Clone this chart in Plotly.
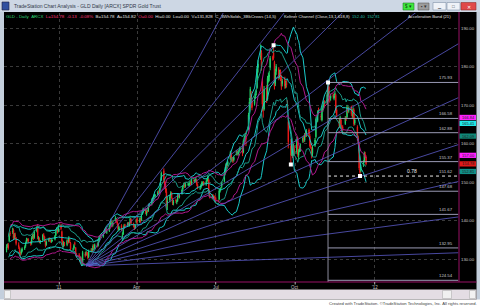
import numpy as np
import pandas as pd
import plotly.graph_objects as go

W, H = 480, 307
def fx(p): return p / W
def fy(p): return 1 - p / H

# ---------------- data (GLD daily, Nov 2010 - Dec 2011) ----------------
opens = [
 132.4,133.5,133.8,134.8,136.8,137.0,137.6,135.8,136.4,135.5,133.8,133.0,131.6,131.6,132.2,132.8,133.4,134.6,135.0,135.2,134.4,134.2,
 135.8,136.2,135.6,137.4,138.6,135.2,135.4,134.4,135.0,136.4,135.8,134.6,133.8,134.8,135.4,134.8,134.6,134.9,135.2,136.2,137.6,137.6,137.3,
 138.9,137.2,134.6,133.6,134.0,133.8,134.8,134.6,135.3,134.2,132.6,132.9,134.2,133.0,131.0,131.2,130.6,129.8,130.1,128.9,131.4,
 131.2,131.6,131.6,130.6,132.2,132.6,132.4,133.6,132.8,133.9,133.6,134.7,135.5,136.2,136.0,137.2,137.2,138.0,137.0,137.4,
 138.8,139.8,139.6,138.9,140.2,140.4,139.8,139.2,137.7,138.8,135.8,136.6,138.2,138.9,139.0,139.4,138.8,139.6,140.4,139.2,138.8,138.2,139.6,
 140.5,139.8,140.4,140.2,141.8,142.2,142.8,141.6,142.6,142.6,143.8,144.5,145.0,146.0,146.4,146.6,146.9,147.6,147.5,148.6,150.6,
 153.0,150.4,149.6,147.6,144.2,145.4,146.5,147.2,145.8,144.5,145.4,144.8,145.2,146.8,146.2,147.2,148.2,149.2,149.6,149.0,149.5,149.2,
 149.4,150.0,149.7,150.6,150.2,150.6,150.6,149.4,148.4,148.7,149.4,149.6,150.0,149.5,150.3,150.7,150.6,147.4,146.0,146.6,146.0,146.3,
 146.0,145.2,145.6,147.6,148.3,148.9,150.2,152.4,153.6,154.8,154.6,156.0,157.4,155.6,156.3,155.8,157.4,158.0,157.3,158.0,158.4,
 159.4,157.8,160.6,161.2,161.8,163.8,168.2,171.8,172.6,171.0,170.4,172.2,173.4,174.6,179.8,182.4,183.6,176.2,170.4,169.0,174.4,171.6,176.6,
 177.4,179.8,182.4,183.6,181.2,175.6,178.8,179.4,177.6,178.8,177.4,175.6,177.0,175.2,176.0,170.4,165.8,159.4,157.2,159.6,157.6,158.8,
 157.8,161.4,157.0,158.6,158.4,160.6,161.6,161.0,162.8,162.4,163.6,162.0,160.0,158.8,157.4,159.6,161.8,166.8,166.0,168.8,167.2,
 166.2,168.8,169.6,170.8,170.6,173.2,174.8,171.8,171.8,172.8,171.8,172.6,172.6,168.8,166.0,164.6,166.2,164.5,164.4,165.2,166.8,167.0,
 169.2,168.6,169.6,167.6,167.0,168.8,165.4,164.4,161.6,159.8,153.4,153.0,154.4,155.4,157.2,156.6]
highs = [
 133.9,134.1,134.2,136.9,137.3,138.2,138.0,136.8,136.9,135.8,134.4,133.3,132.0,132.8,133.1,133.6,134.6,135.6,135.4,135.5,134.8,136.0,
 136.5,136.6,137.6,138.7,139.0,136.0,135.7,135.0,136.6,136.8,136.1,134.9,134.9,135.6,135.7,135.1,135.2,135.1,136.3,137.8,138.3,137.9,139.0,
 139.3,137.5,135.0,134.7,134.5,135.2,135.1,136.0,135.6,134.5,133.0,134.0,134.6,133.2,131.6,131.6,130.9,130.7,130.4,132.2,131.9,
 132.3,132.0,131.9,132.5,132.9,132.9,133.9,133.9,134.1,134.2,134.8,136.0,136.3,136.5,136.9,137.6,138.0,138.4,137.5,139.0,
 139.9,140.3,139.9,139.8,141.2,140.7,140.1,139.4,138.7,139.1,137.0,138.1,139.2,139.2,139.6,139.7,139.6,140.9,140.6,139.5,139.0,139.0,140.5,
 141.0,140.7,140.8,141.6,142.5,143.4,143.1,142.7,142.9,143.8,144.6,145.8,146.0,146.5,147.0,146.9,147.8,147.9,148.6,150.1,152.8,
 153.6,151.2,150.0,148.4,146.2,146.8,147.7,147.5,146.0,145.4,145.8,145.5,147.1,147.0,147.0,148.4,149.3,149.9,149.9,149.8,149.8,150.0,
 150.3,150.4,151.0,150.9,150.8,151.2,150.9,149.7,148.9,149.6,150.3,150.2,150.3,150.5,151.1,151.9,150.9,147.7,146.9,146.9,146.4,146.6,
 146.3,145.5,148.2,148.5,148.8,150.2,152.6,154.0,155.0,155.2,155.6,158.2,157.7,156.4,156.6,156.9,158.3,158.3,158.2,158.7,159.3,
 160.0,161.1,162.2,162.6,163.2,168.1,171.9,174.8,173.7,171.5,172.3,173.8,174.2,180.2,181.8,185.8,184.3,177.0,172.6,175.0,175.2,177.6,178.5,
 179.0,182.8,182.9,185.6,181.6,179.5,180.7,179.9,179.2,179.3,177.9,176.9,177.4,176.4,176.5,171.3,166.6,161.2,161.4,160.5,160.0,159.6,
 161.9,161.8,158.6,159.4,160.0,161.9,162.2,162.8,163.2,163.8,164.0,162.5,160.6,159.2,159.4,161.5,166.9,167.4,168.7,169.4,167.8,
 169.6,169.8,171.2,171.3,173.2,175.9,175.2,172.5,173.0,173.1,172.9,173.7,173.0,169.2,166.6,167.3,166.6,164.9,164.8,167.2,167.2,170.1,
 169.6,169.7,169.9,168.0,169.5,169.2,166.6,164.8,162.1,160.2,154.3,154.6,155.7,158.0,157.9,157.0]
lows = [
 131.8,133.0,132.5,134.4,136.0,136.6,135.0,135.3,135.3,133.6,132.7,130.9,130.4,131.2,131.8,132.4,133.0,134.2,134.6,134.2,133.5,133.8,
 135.3,135.0,135.3,137.0,135.2,134.8,134.2,134.0,134.7,135.7,134.5,133.1,133.5,134.5,134.6,134.3,134.3,134.6,134.9,136.0,137.3,136.7,137.0,
 137.6,134.4,133.0,133.2,133.4,133.4,133.9,134.3,134.2,132.3,132.2,132.5,133.6,130.9,130.5,130.3,129.2,129.4,128.3,128.4,130.5,
 130.9,131.0,130.0,130.3,131.8,131.8,132.0,132.7,132.5,133.1,133.3,134.4,135.1,135.5,135.6,136.6,136.8,136.9,136.6,137.1,
 138.5,139.3,138.3,138.5,139.8,139.5,138.9,137.5,137.2,137.4,134.8,136.3,137.9,138.4,138.7,138.7,138.5,139.2,139.0,138.3,137.6,137.9,139.3,
 139.1,139.5,139.5,139.9,141.5,141.9,141.7,141.3,142.1,142.3,143.5,144.0,144.7,145.6,146.0,146.2,146.6,146.7,147.1,148.3,150.3,
 149.8,148.4,147.3,142.9,142.8,144.8,146.0,145.7,144.1,144.0,144.6,144.3,144.9,146.0,145.8,146.8,147.8,148.8,148.5,148.6,149.1,148.9,
 149.0,149.2,149.3,149.9,149.8,150.2,149.1,148.2,148.0,148.4,149.0,149.2,149.1,149.1,149.9,150.3,147.0,145.8,145.6,145.8,145.6,145.5,
 144.6,144.8,145.3,147.3,147.9,148.5,149.9,152.0,153.2,153.8,154.2,155.7,155.4,155.2,155.0,155.4,157.0,157.0,156.9,157.6,158.0,
 156.8,157.5,160.1,160.6,159.4,163.5,166.4,171.3,169.3,168.7,169.9,171.6,172.6,174.3,178.5,181.8,179.0,168.4,166.8,168.6,170.6,171.2,175.9,
 176.2,179.1,181.6,181.8,174.1,175.0,177.9,176.5,176.9,176.3,174.0,174.9,174.3,174.4,174.6,168.6,158.8,154.6,156.8,156.3,156.9,157.2,
 157.3,156.6,155.9,157.8,157.9,160.2,160.4,160.5,161.7,161.8,161.8,159.0,158.7,156.2,156.7,159.2,161.4,165.5,165.6,167.8,166.1,
 165.8,168.3,169.2,169.7,170.2,172.8,172.0,170.7,171.2,171.7,171.3,172.2,168.0,166.9,164.1,164.2,163.8,163.9,163.2,164.9,165.9,166.6,
 167.9,168.1,167.3,166.6,166.4,164.6,164.9,160.9,159.7,153.2,151.62,152.6,154.0,155.1,156.3,154.4]
closes = [
 133.3,133.6,132.9,136.6,136.6,137.4,135.5,136.2,135.9,134.1,133.2,131.5,131.0,132.4,132.6,133.1,134.3,135.1,135.1,134.6,133.9,135.6,
 136.0,135.4,137.2,138.2,135.6,135.5,134.6,134.6,136.3,136.1,134.9,133.5,134.5,135.2,135.0,134.7,134.9,134.9,136.0,137.5,137.8,137.1,138.7,
 138.0,134.8,133.5,134.3,133.9,134.9,134.3,135.6,134.6,132.7,132.7,133.6,134.1,131.3,131.0,130.8,129.5,130.2,129.0,131.8,130.9,
 131.8,131.4,130.4,132.1,132.5,132.2,133.5,133.1,133.8,133.5,134.5,135.7,135.9,135.9,136.4,137.0,137.5,137.3,137.2,138.7,
 139.5,139.8,138.7,139.4,140.8,139.9,139.3,137.9,138.3,138.0,136.2,137.8,138.8,138.8,139.3,139.1,139.3,140.6,139.4,138.7,138.0,138.7,140.2,
 139.6,140.3,139.9,141.3,142.0,143.0,142.2,142.3,142.5,143.5,144.3,145.3,145.6,146.1,146.6,146.6,147.4,147.1,148.3,149.8,152.4,
 150.6,149.3,148.0,143.7,145.2,146.3,147.3,146.2,144.7,145.0,145.2,145.0,146.8,146.5,146.6,148.0,149.0,149.4,148.9,149.5,149.5,149.6,
 149.8,149.6,150.5,150.3,150.5,150.8,149.5,148.6,148.5,149.3,149.9,149.9,149.5,150.2,150.8,151.5,147.6,146.3,146.4,146.2,146.1,145.9,
 145.1,145.1,147.8,148.1,148.4,149.8,152.2,153.6,154.7,154.3,155.3,157.8,155.9,156.0,155.5,156.5,157.9,157.5,157.8,158.3,158.9,
 157.6,160.7,161.5,162.0,161.1,167.5,170.9,174.2,170.8,169.4,171.6,173.0,173.6,179.5,180.7,182.9,180.0,170.3,170.1,174.2,171.2,177.0,177.8,
 177.9,182.2,182.2,182.3,174.8,178.6,180.0,177.4,178.4,177.1,174.9,176.3,175.0,175.6,175.2,169.3,160.5,157.0,159.8,157.1,158.6,158.1,
 161.1,157.3,157.9,158.6,159.1,161.5,161.0,162.2,162.3,163.3,162.4,159.4,159.2,157.0,158.9,161.0,166.4,166.4,168.2,168.5,166.9,
 169.0,169.2,170.7,170.2,172.8,174.5,172.7,171.6,172.5,172.2,172.4,173.1,168.5,167.4,164.7,166.8,164.3,164.3,163.7,166.7,166.5,169.6,
 168.5,169.1,167.8,167.2,169.0,165.1,166.2,161.4,160.2,153.7,152.5,154.0,155.2,157.6,156.8,154.8]

fib_levels = [175.93, 166.58, 162.88, 155.37, 151.62, 147.68, 141.67, 132.95, 124.54]
fib_start = "2011-11-08"
fan_origin_date, fan_origin_price = "2011-02-01", 128.3
fan_end_date = "2012-04-07"
fan_end_prices = [306.7, 251.8, 223.8, 202.6, 186.0, 172.0, 159.8, 150.2, 141.0, 131.7]
pivot_dates = ["2011-09-06", "2011-11-08", "2011-09-26", "2011-12-15"]
pivot_prices = [185.6, 175.93, 154.6, 151.62]
axis_prices = [130, 140, 150, 160, 170, 180, 190]
date_ticks = ["2011-01-01", "2011-04-01", "2011-07-01", "2011-10-01", "2012-01-01"]
date_labels = ["'11", "Apr", "Jul", "Oct", "'12"]
price_boxes = [(166.84, "#ff20ff", "166.84"), (165.30, "#20e8e8", "165.41"), (162.0, "#108878", "162.09"),
               (157.0, "#ff20ff", "157.00"), (154.78, "#e01818", "154.78"), (152.81, "#109088", "152.81")]
status_parts = [("GLD - Daily", "#30d878"), ("ARCX", "#30d878"), ("L=154.78", "#ff3a7a"), ("-0.13", "#ff3a7a"),
                ("-0.08%", "#ff3a7a"), ("B=154.78", "#e0e0e0"), ("A=154.82", "#e0e0e0"), ("O=0.00", "#ff3a7a"),
                ("Hi=0.00", "#e0e0e0"), ("Lo=0.00", "#e0e0e0"), ("V=131,828", "#e0e0e0"),
                ("C_3WhSolds_3BkCrows (14,5)", "#e0e0e0")]
status_parts2 = [("Keltner Channel (Close,13,1.618,8)", "#e0e0e0"), ("152.40", "#20b8a0"), ("152.81", "#20b8a0")]

n = min(len(opens), len(highs), len(lows), len(closes))
dates = pd.bdate_range("2010-11-01", periods=n)
df = pd.DataFrame({"o": opens[:n], "h": highs[:n], "l": lows[:n], "c": closes[:n]}, index=dates)

# indicators derived from the data
mid = df.c.rolling(20, min_periods=5).mean()
sd = df.c.rolling(20, min_periods=5).std()
bb_up, bb_lo = mid + 2 * sd, mid - 2 * sd
tr = pd.concat([df.h - df.l, (df.h - df.c.shift()).abs(), (df.l - df.c.shift()).abs()], axis=1).max(axis=1)
atr = tr.rolling(8, min_periods=3).mean()
kc_mid = df.c.ewm(span=13).mean()
kc_up, kc_lo = kc_mid + 1.618 * atr, kc_mid - 1.618 * atr
fac = 4 * (df.h - df.l) / (df.h + df.l)
ab_up = (df.h * (1 + fac)).rolling(21, min_periods=5).mean()
ab_lo = (df.l * (1 - fac)).rolling(21, min_periods=5).mean()

fig = go.Figure()
CY = "#19c8c8"
TE = "#1a9a88"
MG = "#b0188c"
for s, col in [(bb_up, CY), (bb_lo, CY), (mid, CY), (kc_up, TE), (kc_lo, TE), (ab_up, MG), (ab_lo, MG)]:
    fig.add_trace(go.Scatter(x=dates, y=s, mode="lines", line=dict(color=col, width=1), hoverinfo="skip"))

# fan lines
for p in fan_end_prices:
    fig.add_trace(go.Scatter(x=[fan_origin_date, fan_end_date], y=[fan_origin_price, p], mode="lines",
                             line=dict(color="#5a5ac8", width=0.8), hoverinfo="skip"))
# fib lines
for lv in fib_levels:
    dotted = abs(lv - 151.62) < 1e-6
    fig.add_trace(go.Scatter(x=[fib_start, fan_end_date], y=[lv, lv], mode="lines",
                             line=dict(color="#e8e8e8" if dotted else "#9a9ab4", width=1,
                                       dash="dot" if dotted else "solid"), hoverinfo="skip"))
fig.add_trace(go.Scatter(x=[fib_start, fib_start], y=[fib_levels[0], 124.0], mode="lines",
                         line=dict(color="#8c8c9c", width=1), hoverinfo="skip"))

fig.add_trace(go.Candlestick(x=dates, open=df.o, high=df.h, low=df.l, close=df.c,
                             increasing=dict(line=dict(color="#22d46a", width=1), fillcolor="#22d46a"),
                             decreasing=dict(line=dict(color="#e81a1a", width=1), fillcolor="#e81a1a"),
                             whiskerwidth=0, hoverinfo="skip"))
fig.add_trace(go.Scatter(x=pivot_dates, y=pivot_prices, mode="markers",
                         marker=dict(symbol="square", size=4, color="white"), hoverinfo="skip"))

shapes = []
ann = []
def rect(x0, y0, x1, y1, fill, line=None):
    shapes.append(dict(type="rect", xref="paper", yref="paper", x0=fx(x0), x1=fx(x1), y0=fy(y1), y1=fy(y0),
                       fillcolor=fill, line=dict(width=0.6 if line else 0, color=line or fill), layer="above"))
def text(x, y, s, size=4.5, color="#d0d0d0", anchor="left", xref="paper", yref="paper"):
    ann.append(dict(x=x, y=y, xref=xref, yref=yref, text=s, showarrow=False, xanchor=anchor, yanchor="middle",
                    font=dict(size=size, color=color, family="Arial"), borderpad=0))

# window chrome
rect(0, 0, 480, 12, "#cdd7e4")
rect(0, 12, 4, 300, "#c4cfdc")
rect(476.5, 12, 480, 300, "#c4cfdc")
rect(4, 289.5, 476.5, 299.5, "#e4dde4")
rect(0, 299.5, 480, 307, "#ffffff")
rect(4.5, 290.5, 10.5, 298.5, "#f2f2f2", "#b0b0b0")
rect(469.5, 290.5, 475.5, 298.5, "#f2f2f2", "#b0b0b0")
rect(442.5, 290.5, 451.5, 298.5, "#f0f0f0", "#b0b0b0")
rect(2, 2, 9, 10, "#3050a0", "#202040")
rect(403, 3, 414, 10, "#3ee83e", "#208020")
rect(418, 3, 429, 10, "#9c9c9c", "#606060")
rect(433, 2.5, 446, 10, "#eef2f8", "#8090a8")
rect(447, 2.5, 460, 10, "#eef2f8", "#8090a8")
rect(461, 2.5, 476, 10, "#e04848", "#903030")
text(fx(13), fy(6), "TradeStation Chart Analysis - GLD Daily [ARCX] SPDR Gold Trust", 5, "#303848")
text(fx(408.5), fy(6.5), "$ ▾", 4.5, "#104010", "center")
text(fx(423.5), fy(6.5), "▪ ▾", 4.5, "#303030", "center")
text(fx(439.5), fy(6.5), "▁", 4, "#404850", "center")
text(fx(453.5), fy(6.5), "□", 4.5, "#404850", "center")
text(fx(468.5), fy(6.5), "✕", 5, "#ffffff", "center")
text(fx(478), fy(303), "Created with TradeStation. ©TradeStation Technologies, Inc. All rights reserved.", 4.2, "#404040", "right")

# status line as coloured spans
def spans(parts):
    return "&nbsp;&nbsp;".join(f'<span style="color:{c}">{s}</span>' for s, c in parts)
text(fx(5), fy(16), spans(status_parts), 4.4, "#e0e0e0")
text(fx(283), fy(16), spans(status_parts2), 4.2, "#e0e0e0")
text(fx(407), fy(16), "Acceleration Band (21)", 4.2, "#e0e0e0")

# axes frame lines
shapes.append(dict(type="line", xref="paper", yref="paper", x0=fx(459), x1=fx(459), y0=fy(282), y1=fy(12),
                   line=dict(color="#9a1066", width=1), layer="above"))
shapes.append(dict(type="line", xref="paper", yref="paper", x0=fx(4), x1=fx(476.5), y0=fy(282), y1=fy(282),
                   line=dict(color="#9a1066", width=1), layer="above"))
for d, lab in zip(date_ticks, date_labels):
    shapes.append(dict(type="line", xref="x", yref="paper", x0=d, x1=d, y0=fy(282), y1=fy(284.5),
                       line=dict(color="#b0b0b0", width=1), layer="above"))
    text(d, fy(287.5), lab, 4.5, "#c8c8c8", "center", xref="x")
for p in axis_prices:
    text(fx(468), p, f"{p:.2f}", 4.3, "#c8c8c8", "center", yref="y")
for p, col, s in price_boxes:
    shapes.append(dict(type="rect", xref="paper", yref="y", x0=fx(459.5), x1=fx(476), y0=p - 0.68, y1=p + 0.68,
                       fillcolor=col, line=dict(width=0), layer="above"))
    text(fx(468), p, s, 4, "#202020", "center", yref="y")
for lv in fib_levels:
    ann.append(dict(x=fx(455), y=lv, xref="paper", yref="y", text=f"{lv:.2f}", showarrow=False, xanchor="right",
                    yanchor="bottom", yshift=0, font=dict(size=4.3, color="#c8c8d0", family="Arial")))
ann.append(dict(x=fx(412), y=151.62, xref="paper", yref="y", text="0.78", showarrow=False, xanchor="center",
                yanchor="bottom", font=dict(size=5, color="#f0f0f0", family="Arial")))

fig.update_layout(
    width=W, height=H, margin=dict(l=0, r=0, t=0, b=0),
    paper_bgcolor="#000000", plot_bgcolor="#000000", showlegend=False,
    shapes=shapes, annotations=ann,
    xaxis=dict(domain=[fx(4), fx(458.5)], type="date", range=["2010-10-29", "2012-04-07"],
               showticklabels=False, tickmode="array", tickvals=date_ticks, showgrid=True,
               gridcolor="#3a3a3a", griddash="dot", gridwidth=1, zeroline=False, showline=False,
               rangeslider=dict(visible=False), fixedrange=True),
    yaxis=dict(domain=[fy(282), fy(13)], range=[124.1, 193.97], showticklabels=False, tickmode="array",
               tickvals=axis_prices, showgrid=True, gridcolor="#3a3a3a", griddash="dot", gridwidth=1,
               zeroline=False, showline=False, fixedrange=True),
)
fig.write_html("out.html")
